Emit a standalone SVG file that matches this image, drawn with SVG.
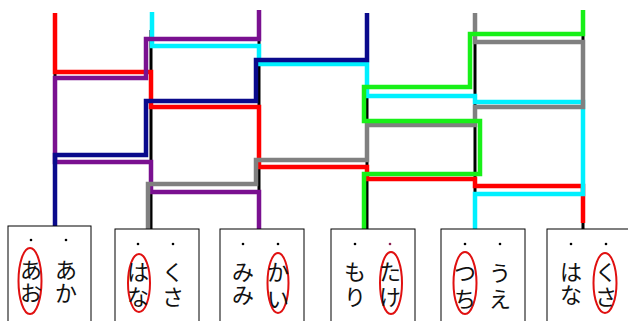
<svg xmlns="http://www.w3.org/2000/svg" width="628" height="321" viewBox="0 0 628 321">
<style>
.rail{fill:none;stroke:#000;stroke-width:3}
.p{fill:none;stroke-width:4.5;stroke-linejoin:miter;stroke-linecap:butt}
.card{fill:#fff;stroke:#000;stroke-width:1}
.t{font-family:"Noto Sans CJK JP","Noto Sans CJK SC",sans-serif;font-size:22px;fill:#111;text-anchor:middle}
.dot{fill:#000}
.ring{fill:none;stroke:#e01010;stroke-width:2}
</style>
<rect width="628" height="321" fill="#fff"/>
<g id="connectors">
  <path class="rail" d="M55,30V229M151,30V229M259,30V229M367,30V229M475,30V229M583,30V229"/>
  <path class="p" stroke="#ff0000" d="M55,13V72H151V107H259V167H367V179H475V186H583V223"/>
  <path class="p" stroke="#00f0ff" d="M152,12V46H259V64H367V96H475V102H583V194H475V229"/>
  <path class="p" stroke="#7a1090" d="M259,10V39H146V78H55V162H151V192H259V229"/>
  <path class="p" stroke="#0a0a8c" d="M367,13V60H256V101H146V155H55V229"/>
  <path class="p" stroke="#808080" d="M475,13V42H583V107H475V125H367V160H256V184H148V229"/>
  <path class="p" stroke="#18f018" d="M583,10V34H470V87H364V121H480V174H364V229"/>
</g>
<g id="card1">
  <rect class="card" x="8" y="226" width="83" height="100"/>
  <circle class="dot" cx="31" cy="240" r="1.3"/><circle class="dot" cx="66" cy="240" r="1.3"/>
  <ellipse class="ring" cx="30" cy="281" rx="11.5" ry="33"/>
  <text class="t" x="31" y="278">あ</text><text class="t" x="31" y="301">お</text>
  <text class="t" x="66" y="278">あ</text><text class="t" x="66" y="301">か</text>
</g>
<g id="card2">
  <rect class="card" x="115" y="229" width="84" height="100"/>
  <circle class="dot" cx="138" cy="244" r="1.3"/><circle class="dot" cx="173" cy="244" r="1.3"/>
  <ellipse class="ring" cx="139" cy="283" rx="11" ry="29"/>
  <text class="t" x="138" y="280">は</text><text class="t" x="138" y="305">な</text>
  <text class="t" x="173" y="280">く</text><text class="t" x="173" y="305">さ</text>
</g>
<g id="card3">
  <rect class="card" x="220" y="229" width="84" height="100"/>
  <circle class="dot" cx="243" cy="244" r="1.3"/><circle class="dot" cx="278" cy="244" r="1.3"/>
  <ellipse class="ring" cx="278" cy="283" rx="10.5" ry="30"/>
  <text class="t" x="243" y="280">み</text><text class="t" x="243" y="303">み</text>
  <text class="t" x="278" y="280">か</text><text class="t" x="278" y="307">い</text>
</g>
<g id="card4">
  <rect class="card" x="331" y="229" width="84" height="100"/>
  <circle class="dot" cx="355" cy="244" r="1.3"/><circle cx="390" cy="244" r="1.3" fill="#8a2050"/>
  <ellipse class="ring" cx="391" cy="283" rx="11" ry="31"/>
  <text class="t" x="355" y="280">も</text><text class="t" x="355" y="305">り</text>
  <text class="t" x="390" y="280">た</text><text class="t" x="390" y="305">け</text>
</g>
<g id="card5">
  <rect class="card" x="441" y="229" width="84" height="100"/>
  <circle class="dot" cx="465" cy="244" r="1.3"/><circle class="dot" cx="500" cy="244" r="1.3"/>
  <ellipse class="ring" cx="465" cy="283" rx="11.5" ry="31"/>
  <text class="t" x="465" y="281">つ</text><text class="t" x="465" y="307">ち</text>
  <text class="t" x="500" y="281">う</text><text class="t" x="500" y="307">え</text>
</g>
<g id="card6">
  <rect class="card" x="547" y="229" width="90" height="100"/>
  <circle class="dot" cx="571" cy="244" r="1.3"/><circle class="dot" cx="606" cy="244" r="1.3"/>
  <ellipse class="ring" cx="605" cy="283" rx="11.5" ry="30"/>
  <text class="t" x="571" y="280">は</text><text class="t" x="571" y="303">な</text>
  <text class="t" x="606" y="280">く</text><text class="t" x="606" y="305">さ</text>
</g>
</svg>
